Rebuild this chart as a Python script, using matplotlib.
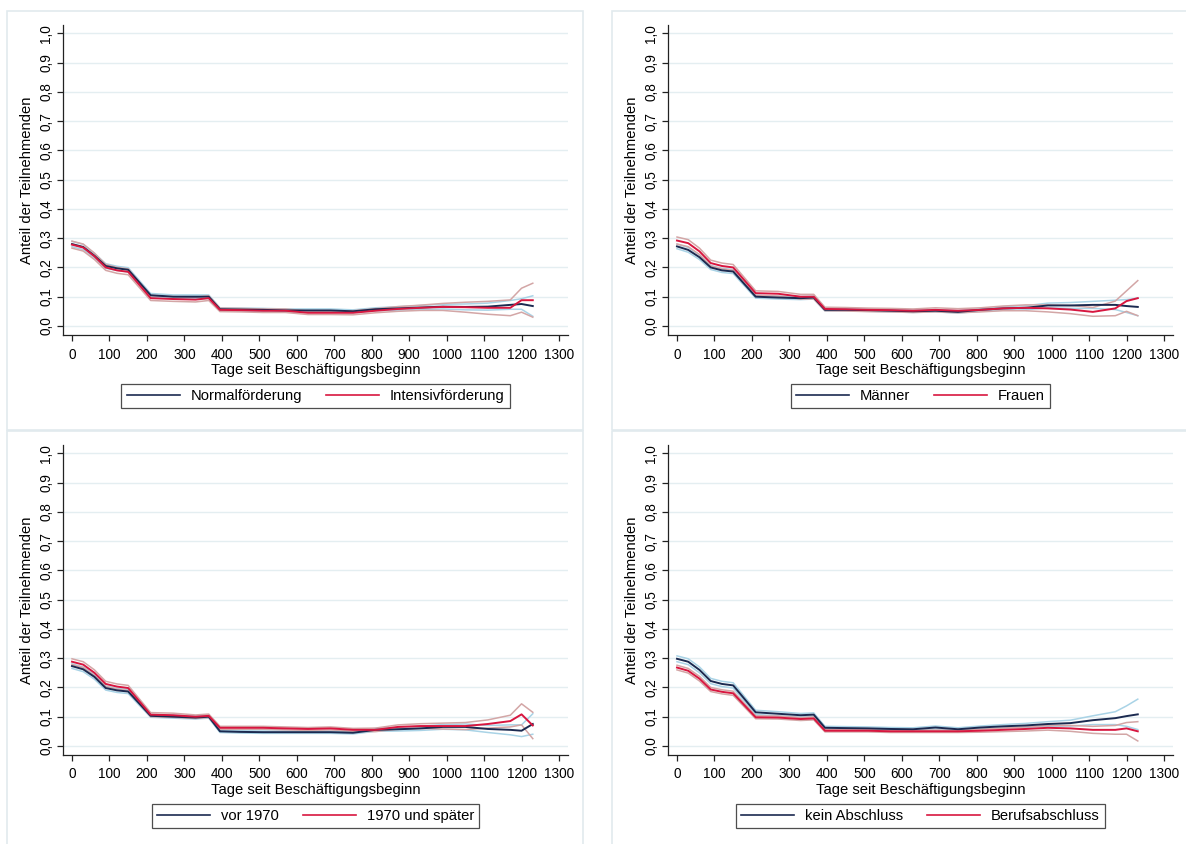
import matplotlib
matplotlib.use("Agg")
import matplotlib.pyplot as plt
from matplotlib.patches import Rectangle
import numpy as np

plt.rcParams['font.family'] = ['Liberation Sans', 'DejaVu Sans']

# ---------------- data ----------------
days = [0, 30, 60, 90, 120, 150, 210, 270, 330, 365, 395, 450, 510, 570, 630,
        690, 750, 810, 870, 930, 990, 1050, 1110, 1170, 1200, 1230]

x_ticks = list(range(0, 1301, 100))
y_ticks = [i / 10 for i in range(11)]
y_ticklabels = ["0,0", "0,1", "0,2", "0,3", "0,4", "0,5", "0,6", "0,7", "0,8", "0,9", "1,0"]
x_title = "Tage seit Beschäftigungsbeginn"
y_title = "Anteil der Teilnehmenden"

# Panel 1: Normalförderung vs Intensivförderung
p1_labels = ["Normalförderung", "Intensivförderung"]
p1_a = [0.280, 0.270, 0.240, 0.205, 0.197, 0.192, 0.105, 0.100, 0.100, 0.100, 0.057, 0.056, 0.055,
        0.053, 0.053, 0.053, 0.050, 0.057, 0.060, 0.063, 0.066, 0.065, 0.066, 0.072, 0.075, 0.068]
p1_a_ci = [0.009, 0.009, 0.008, 0.008, 0.007, 0.007, 0.006, 0.006, 0.006, 0.006, 0.005, 0.005, 0.005,
           0.005, 0.005, 0.005, 0.005, 0.005, 0.006, 0.007, 0.008, 0.010, 0.012, 0.015, 0.018, 0.035]
p1_b = [0.278, 0.268, 0.238, 0.200, 0.190, 0.185, 0.095, 0.092, 0.090, 0.095, 0.055, 0.054, 0.052,
        0.052, 0.045, 0.045, 0.045, 0.052, 0.058, 0.062, 0.065, 0.064, 0.062, 0.062, 0.088, 0.088]
p1_b_ci = [0.012, 0.012, 0.011, 0.010, 0.010, 0.010, 0.008, 0.008, 0.008, 0.008, 0.006, 0.006, 0.006,
           0.006, 0.006, 0.006, 0.007, 0.007, 0.008, 0.009, 0.012, 0.017, 0.022, 0.027, 0.041, 0.058]

# Panel 2: Männer vs Frauen
p2_labels = ["Männer", "Frauen"]
p2_a = [0.272, 0.260, 0.235, 0.200, 0.190, 0.186, 0.100, 0.097, 0.095, 0.097, 0.055, 0.055, 0.054,
        0.052, 0.050, 0.052, 0.048, 0.055, 0.060, 0.062, 0.070, 0.070, 0.072, 0.072, 0.068, 0.065]
p2_a_ci = [0.008, 0.008, 0.008, 0.007, 0.007, 0.007, 0.005, 0.005, 0.005, 0.005, 0.004, 0.004, 0.004,
           0.004, 0.004, 0.004, 0.004, 0.005, 0.006, 0.007, 0.008, 0.010, 0.012, 0.016, 0.022, 0.030]
p2_b = [0.292, 0.283, 0.255, 0.215, 0.205, 0.200, 0.112, 0.110, 0.100, 0.100, 0.058, 0.057, 0.055,
        0.054, 0.052, 0.055, 0.052, 0.055, 0.060, 0.062, 0.060, 0.056, 0.048, 0.060, 0.085, 0.095]
p2_b_ci = [0.012, 0.012, 0.011, 0.010, 0.010, 0.010, 0.008, 0.008, 0.008, 0.008, 0.006, 0.006, 0.006,
           0.006, 0.006, 0.007, 0.007, 0.007, 0.008, 0.010, 0.012, 0.014, 0.015, 0.025, 0.035, 0.060]

# Panel 3: vor 1970 vs 1970 und später
p3_labels = ["vor 1970", "1970 und später"]
p3_a = [0.273, 0.262, 0.236, 0.198, 0.190, 0.186, 0.103, 0.100, 0.097, 0.100, 0.050, 0.048, 0.047,
        0.047, 0.047, 0.047, 0.045, 0.055, 0.057, 0.060, 0.065, 0.065, 0.058, 0.055, 0.052, 0.075]
p3_a_ci = [0.008, 0.008, 0.008, 0.007, 0.007, 0.007, 0.005, 0.005, 0.005, 0.005, 0.004, 0.004, 0.004,
           0.004, 0.004, 0.004, 0.004, 0.005, 0.006, 0.007, 0.008, 0.010, 0.012, 0.017, 0.020, 0.035]
p3_b = [0.288, 0.278, 0.250, 0.212, 0.203, 0.198, 0.107, 0.105, 0.100, 0.103, 0.062, 0.062, 0.062,
        0.060, 0.058, 0.060, 0.055, 0.055, 0.065, 0.068, 0.068, 0.068, 0.075, 0.085, 0.108, 0.070]
p3_b_ci = [0.010, 0.010, 0.010, 0.009, 0.009, 0.009, 0.007, 0.007, 0.006, 0.006, 0.005, 0.005, 0.005,
           0.005, 0.005, 0.005, 0.005, 0.006, 0.007, 0.008, 0.010, 0.012, 0.014, 0.020, 0.036, 0.045]

# Panel 4: kein Abschluss vs Berufsabschluss
p4_labels = ["kein Abschluss", "Berufsabschluss"]
p4_a = [0.298, 0.288, 0.260, 0.222, 0.212, 0.207, 0.115, 0.110, 0.105, 0.107, 0.062, 0.061, 0.060,
        0.058, 0.057, 0.063, 0.057, 0.063, 0.067, 0.070, 0.075, 0.078, 0.088, 0.095, 0.102, 0.108]
p4_a_ci = [0.010, 0.010, 0.010, 0.009, 0.009, 0.009, 0.007, 0.007, 0.006, 0.006, 0.005, 0.005, 0.005,
           0.005, 0.005, 0.005, 0.005, 0.005, 0.006, 0.007, 0.008, 0.010, 0.015, 0.022, 0.035, 0.052]
p4_b = [0.268, 0.257, 0.230, 0.193, 0.185, 0.180, 0.098, 0.097, 0.092, 0.094, 0.052, 0.052, 0.052,
        0.050, 0.050, 0.050, 0.050, 0.052, 0.055, 0.058, 0.062, 0.060, 0.055, 0.055, 0.060, 0.050]
p4_b_ci = [0.008, 0.008, 0.008, 0.007, 0.007, 0.007, 0.005, 0.005, 0.005, 0.005, 0.004, 0.004, 0.004,
           0.004, 0.004, 0.004, 0.004, 0.005, 0.006, 0.007, 0.008, 0.010, 0.012, 0.015, 0.020, 0.033]

panels = [
    (p1_labels, p1_a, p1_a_ci, p1_b, p1_b_ci),
    (p2_labels, p2_a, p2_a_ci, p2_b, p2_b_ci),
    (p3_labels, p3_a, p3_a_ci, p3_b, p3_b_ci),
    (p4_labels, p4_a, p4_a_ci, p4_b, p4_b_ci),
]

# ---------------- style ----------------
NAVY = "#1b2a50"
RED = "#d8163f"
LIGHTBLUE = "#a9d3e6"
PINK = "#d3a6a6"
GRID = "#e4eef1"
BORDER = "#e1eaee"

W, H = 1186, 844
fig = plt.figure(figsize=(W / 100, H / 100), dpi=100)

# panel offsets (pixels)
offsets = [(0, 0), (605, 0), (0, 420), (605, 420)]

for (dx, dy), (labels, a, a_ci, b, b_ci) in zip(offsets, panels):
    # panel border
    fig.patches.append(Rectangle(((7 + dx) / W, 1 - (430 + dy) / H), 576 / W, 419 / H,
                                 transform=fig.transFigure, fill=False,
                                 edgecolor=BORDER, linewidth=1.2))
    left = (63 + dx) / W
    bottom = 1 - (335 + dy) / H
    ax = fig.add_axes([left, bottom, (568 - 63) / W, (335 - 25) / H])
    xs = np.array(days)
    a = np.array(a); a_ci = np.array(a_ci)
    b = np.array(b); b_ci = np.array(b_ci)

    for yv in y_ticks:
        ax.axhline(yv, color=GRID, lw=1.0, zorder=0)

    ax.plot(xs, a + a_ci, color=LIGHTBLUE, lw=1.1, zorder=2)
    ax.plot(xs, a - a_ci, color=LIGHTBLUE, lw=1.1, zorder=2)
    ax.plot(xs, b + b_ci, color=PINK, lw=1.1, zorder=2)
    ax.plot(xs, b - b_ci, color=PINK, lw=1.1, zorder=2)
    ax.plot(xs, a, color=NAVY, lw=1.4, zorder=3, label=labels[0])
    ax.plot(xs, b, color=RED, lw=1.4, zorder=4, label=labels[1])

    ax.set_xlim(-24, 1324)
    ax.set_ylim(-0.031, 1.029)
    ax.set_xticks(x_ticks)
    ax.set_xticklabels([str(t) for t in x_ticks], fontsize=9.8)
    ax.set_yticks(y_ticks)
    ax.set_yticklabels(y_ticklabels, fontsize=9.8, rotation=90, va='center')
    for s in ["top", "right"]:
        ax.spines[s].set_visible(False)
    for s in ["left", "bottom"]:
        ax.spines[s].set_color("#222222")
        ax.spines[s].set_linewidth(0.9)
    ax.tick_params(axis='x', length=4, width=0.9, color="#222222", pad=5)
    ax.tick_params(axis='y', length=4, width=0.9, color="#222222", pad=3)
    ax.set_xlabel(x_title, fontsize=10.6, labelpad=1)
    ax.set_ylabel(y_title, fontsize=10.6, labelpad=4)
    ax.set_facecolor("white")

    leg = ax.legend(loc='center', bbox_to_anchor=(0.5, -0.197), ncol=2, fontsize=10.6,
                    frameon=True, fancybox=False, edgecolor="#222222", handlelength=3.6,
                    handletextpad=0.75, columnspacing=1.6, borderpad=0.35,
                    borderaxespad=0)
    leg.get_frame().set_linewidth(0.9)
    for line in leg.get_lines():
        line.set_linewidth(1.2)

fig.savefig("out.png", dpi=100, facecolor="white")
